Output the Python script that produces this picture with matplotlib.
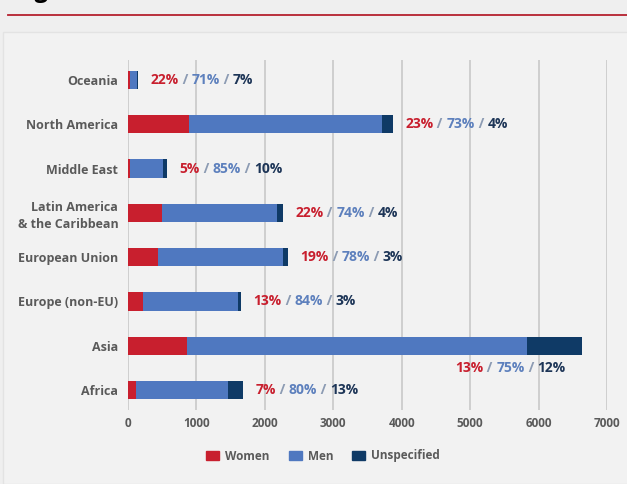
import matplotlib
matplotlib.use("Agg")
import matplotlib.pyplot as plt
from matplotlib.patches import Rectangle, Patch

# ---------------- data ----------------
regions = ["Africa", "Asia", "Europe (non-EU)", "European Union",
           "Latin America\n& the Caribbean", "Middle East", "North America", "Oceania"]
women = [118, 862, 215, 444, 498, 28, 890, 32]
men = [1343, 4971, 1386, 1822, 1675, 485, 2825, 104]
unspecified = [218, 795, 49, 70, 90, 57, 155, 10]
women_pct = ["7%", "13%", "13%", "19%", "22%", "5%", "23%", "22%"]
men_pct = ["80%", "75%", "84%", "78%", "74%", "85%", "73%", "71%"]
unspec_pct = ["13%", "12%", "3%", "3%", "4%", "10%", "4%", "7%"]
xticks = [0, 1000, 2000, 3000, 4000, 5000, 6000, 7000]
series_names = ["Women", "Men", "Unspecified"]
title = "Region of residence (n=19,170)"

# ---------------- style ----------------
C_W = "#c81f2e"
C_M = "#4f78c0"
C_U = "#0f3a66"
T_M = "#5d80bd"
T_U = "#1d3557"
SLASH = "#8c9bb3"
GRAY = "#5a5a5a"
FONT = "Open Sans"

W, H = 627, 484
fig = plt.figure(figsize=(W / 100, H / 100), dpi=100)
fig.patch.set_facecolor("#efefef")

# background panel
fig.add_artist(Rectangle((3 / W, 0), 1, 1 - 32 / H, transform=fig.transFigure,
                         facecolor="#f2f2f2", edgecolor="#e3e3e3", lw=1, zorder=0))
# title (clipped at the top edge, as in the reference) and red rule
fig.text(5 / W, 1 + 3 / H, title, fontsize=17, fontweight="bold", family=FONT,
         color="black", ha="left", va="baseline")
fig.add_artist(plt.Line2D([8 / W, 1], [1 - 15 / H, 1 - 15 / H], transform=fig.transFigure,
                          color="#b5202e", lw=1.3))

ax = fig.add_axes([128 / W, 1 - 410 / H, (607 - 128) / W, 350 / H])
ax.set_facecolor("none")
y = list(range(len(regions)))
bh = 0.41
left2 = [a + b for a, b in zip(women, men)]
ax.barh(y, women, height=bh, color=C_W, zorder=3)
ax.barh(y, men, left=women, height=bh, color=C_M, zorder=3)
ax.barh(y, unspecified, left=left2, height=bh, color=C_U, zorder=3)

ax.set_xlim(0, 7000)
ax.set_ylim(-0.45, len(regions) - 1 + 0.45)
ax.set_xticks(xticks)
ax.set_xticklabels([str(t) for t in xticks])
ax.set_yticks(y)
ax.set_yticklabels(regions)
ax.grid(axis="x", color="#c9c9c9", lw=1.2, zorder=0)
ax.grid(axis="y", visible=False)
for s in ax.spines.values():
    s.set_visible(False)
ax.tick_params(axis="both", length=0)
ax.tick_params(axis="x", pad=5, labelsize=8.5, labelcolor=GRAY)
ax.tick_params(axis="y", pad=7, labelsize=9, labelcolor=GRAY)
for lab in ax.get_xticklabels() + ax.get_yticklabels():
    lab.set_family(FONT)
    lab.set_fontweight("bold")
for lab in ax.get_yticklabels():
    lab.set_multialignment("right")
    lab.set_linespacing(1.4)

# annotations
fs = 10
for i in y:
    total = women[i] + men[i] + unspecified[i]
    parts = [(women_pct[i], C_W), (" / ", SLASH), (men_pct[i], T_M),
             (" / ", SLASH), (unspec_pct[i], T_U)]
    if total > 6000:
        # below the bar, right aligned
        xpos, ypos = total - 230, i - 0.5
        t = None
        for txt, col in reversed(parts):
            if t is None:
                t = ax.text(xpos, ypos, txt, color=col, fontsize=fs, fontweight="bold",
                            family=FONT, ha="right", va="center", zorder=4)
            else:
                t = ax.annotate(txt, xycoords=t, xy=(0, 0.5), va="center", ha="right",
                                color=col, fontsize=fs, fontweight="bold", family=FONT,
                                zorder=4)
    else:
        t = ax.annotate(parts[0][0], xy=(total, i), xytext=(9, 0),
                        textcoords="offset points", va="center", ha="left",
                        color=parts[0][1], fontsize=fs, fontweight="bold", family=FONT,
                        zorder=4)
        for txt, col in parts[1:]:
            t = ax.annotate(txt, xycoords=t, xy=(1, 0.5), va="center", ha="left",
                            color=col, fontsize=fs, fontweight="bold", family=FONT,
                            zorder=4)

# legend
handles = [Patch(color=c, label=n) for c, n in zip([C_W, C_M, C_U], series_names)]
leg = fig.legend(handles=handles, loc="center", bbox_to_anchor=(323 / W, 1 - 456 / H),
                 ncol=3, frameon=False, handlelength=1.1, handleheight=0.75,
                 handletextpad=0.5, columnspacing=1.6,
                 prop={"family": FONT, "weight": "bold", "size": 8.5})
for txt in leg.get_texts():
    txt.set_color(GRAY)

fig.savefig("out.png", dpi=100, facecolor=fig.get_facecolor())
